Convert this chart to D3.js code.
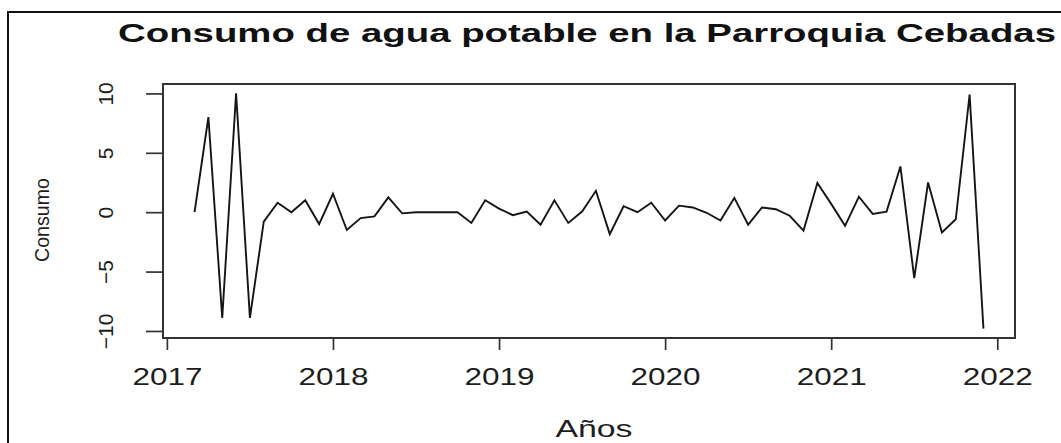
<!DOCTYPE html>
<html>
<head>
<meta charset="utf-8">
<script src="https://cdn.jsdelivr.net/npm/d3@7"></script>
<style>
  html, body { margin: 0; padding: 0; background: #fff; overflow: hidden; }
  svg { display: block; font-family: "Liberation Sans", Arial, sans-serif; }
</style>
</head>
<body>
<svg id="chart" width="1061" height="443"></svg>
<script>
// Monthly series, starting March 2017
const startYear = 2017;
const startMonth = 3;
const frequency = 12;
const consumo = [
  0, 8.0, -8.9, 10.0, -8.9, -0.8, 0.8, 0, 1.0, -1.0,
  1.55, -1.5, -0.5, -0.35, 1.25, -0.1, 0, 0, 0, 0,
  -0.9, 1.0, 0.3, -0.25, 0.05, -1.05, 1.0, -0.9, 0.05, 1.8,
  -1.85, 0.5, 0, 0.8, -0.7, 0.55, 0.4, -0.05, -0.7, 1.2,
  -1.05, 0.4, 0.25, -0.3, -1.55, 2.45, 0.7, -1.15, 1.3, -0.15,
  0.05, 3.85, -5.55, 2.5, -1.7, -0.6, 9.9, -9.8
];
const xTickValues = [2017, 2018, 2019, 2020, 2021, 2022];
const yTickValues = [-10, -5, 0, 5, 10];
const chartTitle = "Consumo de agua potable en la Parroquia Cebadas";
const xTitle = "Años";
const yTitle = "Consumo";

const times = consumo.map((_, i) => startYear + (startMonth - 1 + i) / frequency);

// base-graphics style 4% padding of the data range
function padded([lo, hi]) {
  const e = (hi - lo) * 0.04;
  return [lo - e, hi + e];
}

const box = { left: 163, right: 1015, top: 84, bottom: 338 };
const svg = d3.select("#chart");

const x = d3.scaleLinear().domain(padded(d3.extent(times))).range([box.left, box.right]);
const y = d3.scaleLinear().domain(padded(d3.extent(consumo))).range([box.bottom, box.top]);

const ink = "#1e1e1e";
const frame = "#333";

// outer figure border
svg.append("rect")
  .attr("x", 8).attr("y", 12)
  .attr("width", 1200).attr("height", 600)
  .attr("fill", "none").attr("stroke", "#111").attr("stroke-width", 2);

// title
svg.append("text")
  .attr("x", 587).attr("y", 42)
  .attr("text-anchor", "middle")
  .attr("font-size", 25).attr("font-weight", "bold")
  .attr("fill", "#111")
  .attr("textLength", 938).attr("lengthAdjust", "spacingAndGlyphs")
  .text(chartTitle);

// x axis
const gx = svg.append("g")
  .attr("transform", `translate(0,${box.bottom})`)
  .call(d3.axisBottom(x).tickValues(xTickValues).tickSize(12).tickFormat(d3.format("d")));
gx.select(".domain").remove();
gx.selectAll(".tick line").attr("stroke", frame).attr("stroke-width", 1.7);
gx.selectAll(".tick text")
  .attr("y", 47).attr("dy", 0)
  .attr("font-size", 24).attr("font-family", "Liberation Sans, Arial, sans-serif")
  .attr("fill", ink)
  .attr("textLength", 70).attr("lengthAdjust", "spacingAndGlyphs");

// y axis
const gy = svg.append("g")
  .attr("transform", `translate(${box.left},0)`)
  .call(d3.axisLeft(y).tickValues(yTickValues).tickSize(17));
gy.select(".domain").remove();
gy.selectAll(".tick line").attr("stroke", frame).attr("stroke-width", 1.7);
gy.selectAll(".tick text")
  .attr("x", 0).attr("y", 0).attr("dy", 0)
  .attr("transform", "translate(-50.5,0) rotate(-90)")
  .attr("text-anchor", "middle")
  .attr("font-size", 21).attr("font-family", "Liberation Sans, Arial, sans-serif")
  .attr("fill", ink);

// plot frame
svg.append("rect")
  .attr("x", box.left).attr("y", box.top)
  .attr("width", box.right - box.left).attr("height", box.bottom - box.top)
  .attr("fill", "none").attr("stroke", frame).attr("stroke-width", 2);

// series line
const line = d3.line()
  .x((d, i) => x(times[i]))
  .y(d => y(d));
svg.append("path")
  .datum(consumo)
  .attr("d", line)
  .attr("fill", "none")
  .attr("stroke", "#151515")
  .attr("stroke-width", 1.9)
  .attr("stroke-linejoin", "miter");

// axis titles
svg.append("text")
  .attr("x", 594).attr("y", 437)
  .attr("text-anchor", "middle")
  .attr("font-size", 24).attr("fill", ink)
  .attr("textLength", 77).attr("lengthAdjust", "spacingAndGlyphs")
  .text(xTitle);

svg.append("text")
  .attr("transform", "translate(49,220) rotate(-90)")
  .attr("text-anchor", "middle")
  .attr("font-size", 20).attr("fill", ink)
  .attr("textLength", 84).attr("lengthAdjust", "spacingAndGlyphs")
  .text(yTitle);
</script>
</body>
</html>
